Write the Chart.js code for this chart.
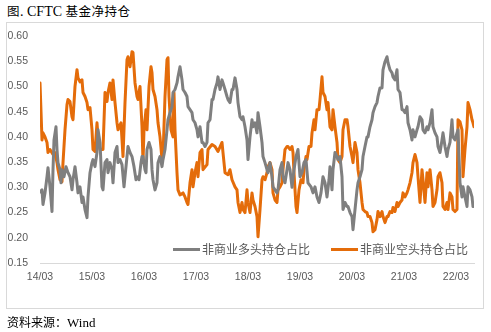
<!DOCTYPE html>
<html>
<head>
<meta charset="utf-8">
<script src="https://cdn.jsdelivr.net/npm/chart.js@4/dist/chart.umd.min.js"></script>
<style>
  html, body { margin: 0; padding: 0; background: #fff; }
  #wrap { position: relative; width: 491px; height: 332px; overflow: hidden; }
  .serif { font-family: "Liberation Serif", "Noto Sans CJK SC", serif; color: #000; }
  .title { position: absolute; left: 7px; top: 3px; font-size: 14px; line-height: 16px; white-space: nowrap; }
  .title .cjk { font-family: "Noto Sans CJK SC", sans-serif; font-size: 12.5px; letter-spacing: 0.5px; }
  .source .cjk { font-family: "Noto Sans CJK SC", sans-serif; font-size: 12px; }
  .frame { position: absolute; left: 6px; top: 22px; width: 476px; height: 285px; border: 1px solid #d9d9d9; }
  #chart { position: absolute; left: 0; top: 0; }
  .source { position: absolute; left: 7px; top: 314px; font-size: 13px; line-height: 16px; white-space: nowrap; }
  .legend { position: absolute; left: 173px; top: 241px; display: flex; align-items: center; white-space: nowrap;
            font-family: "Noto Sans CJK SC", sans-serif; font-size: 12px; color: #595959; line-height: 16px; }
  .legend .item { display: flex; align-items: center; margin-right: 21px; }
  .legend .swatch { width: 27px; height: 3px; margin-right: 2px; }
</style>
</head>
<body>
<div id="wrap">
  <div class="title serif"><span class="cjk">图</span>. CFTC <span class="cjk">基金净持仓</span></div>
  <div class="frame"></div>
  <canvas id="chart" width="491" height="332"></canvas>
  <div class="legend" id="legend"></div>
  <div class="source serif"><span class="cjk">资料来源：</span>Wind</div>
</div>
<script>
// Weeks counted from the first report in March 2014
const yearTickWeeks = [0, 52, 104, 156, 208, 260, 312, 364, 416];
const yearLabels = ['14/03', '15/03', '16/03', '17/03', '18/03', '19/03', '20/03', '21/03', '22/03'];

// 非商业多头持仓占比
const longWeeks = [
  0,2,3,5,7,8,10,12,13,14,
  16,17,18,20,21,22,24,26,28,30,
  32,33,35,37,38,40,42,43,45,47,
  48,50,52,53,55,57,58,60,62,63,
  65,67,68,70,72,73,75,77,78,80,
  82,84,86,88,90,92,94,96,98,99,
  101,102,103,105,106,107,109,111,112,113,
  115,117,118,120,122,123,125,127,128,130,
  132,133,135,137,138,140,142,143,145,147,
  148,150,152,153,155,157,158,160,162,163,
  165,167,168,170,172,173,175,177,178,180,
  182,183,185,187,188,190,192,193,195,197,
  198,200,202,203,205,207,208,210,212,213,
  215,217,218,220,222,223,225,227,228,230,
  232,233,235,237,238,240,242,243,245,247,
  248,250,252,254,256,258,260,262,264,266,
  268,271,273,275,277,279,281,283,285,287,
  289,290,292,293,295,297,298,300,302,303,
  305,307,308,310,312,313,315,317,318,320,
  322,323,325,327,328,330,332,333,335,337,
  338,340,342,343,345,347,348,350,352,353,
  355,357,358,360,362,363,365,367,368,370,
  372,373,375,377,378,380,382,383,385,387,
  388,390,392,393,395,397,398,400,402,403,
  405,407,408,410,412,413,415,417,418,420,
  422,423,425,427,428,430,432,433
];
const longShare = [
  .291,.295,.266,.289,.321,.339,.301,.252,.335,.394,
  .420,.375,.349,.335,.309,.335,.321,.341,.329,.321,
  .295,.315,.341,.309,.289,.301,.270,.281,.256,.240,
  .281,.329,.349,.355,.341,.369,.414,.389,.301,.295,
  .349,.355,.329,.349,.335,.309,.369,.381,.349,.355,
  .345,.301,.341,.381,.369,.361,.341,.315,.321,.315,
  .349,.361,.361,.335,.329,.375,.389,.375,.335,.315,
  .295,.309,.349,.361,.341,.355,.375,.414,.434,.448,
  .460,.488,.494,.507,.519,.539,.513,.494,.488,.480,
  .460,.454,.448,.434,.428,.414,.400,.420,.389,.389,
  .381,.389,.428,.434,.474,.474,.494,.507,.519,.494,
  .513,.507,.494,.480,.474,.468,.494,.494,.517,.494,
  .468,.440,.434,.440,.420,.394,.355,.400,.434,.420,
  .428,.408,.448,.420,.389,.361,.349,.335,.329,.349,
  .321,.301,.295,.289,.295,.335,.349,.321,.309,.335,
  .349,.335,.300,.335,.361,.375,.321,.329,.349,.355,
  .309,.301,.289,.301,.281,.270,.289,.321,.309,.281,
  .315,.341,.295,.335,.369,.361,.355,.361,.321,.256,
  .270,.262,.262,.250,.242,.216,.256,.295,.309,.321,
  .335,.361,.381,.400,.400,.420,.434,.448,.460,.468,
  .480,.497,.497,.533,.549,.559,.547,.533,.527,.519,
  .513,.533,.494,.488,.454,.454,.448,.460,.428,.414,
  .394,.414,.400,.414,.420,.440,.434,.414,.408,.420,
  .414,.428,.454,.420,.408,.400,.381,.369,.394,.408,
  .381,.361,.375,.389,.434,.400,.394,.408,.414,.309,
  .281,.301,.281,.262,.301,.295,.281,.262
];

// 非商业空头持仓占比
const shortWeeks = [
  0,2,3,5,7,8,10,13,15,17,
  18,20,22,23,25,27,28,30,32,33,
  35,37,38,40,42,43,45,47,48,50,
  52,53,55,57,58,60,63,65,67,68,
  70,72,73,75,77,78,81,83,85,87,
  88,90,92,93,95,97,98,100,102,103,
  104,106,107,109,111,112,113,115,117,118,
  120,122,123,125,127,128,129,131,133,134,
  135,137,138,140,143,145,147,148,150,152,
  153,155,157,158,160,162,163,165,167,168,
  172,175,178,182,183,185,188,190,192,195,
  197,198,200,202,203,205,207,208,210,212,
  213,215,217,218,220,222,223,225,227,228,
  230,232,233,235,237,238,240,242,243,245,
  247,248,250,252,253,254,256,257,259,261,
  263,264,266,267,269,271,272,274,275,277,
  279,280,282,283,285,287,288,290,292,293,
  295,297,298,300,302,303,305,307,308,310,
  312,313,315,317,318,320,322,323,325,327,
  328,330,332,333,335,337,338,340,342,343,
  345,347,348,350,352,353,355,357,358,360,
  362,363,365,367,368,370,372,373,375,377,
  378,380,382,383,385,387,388,390,392,393,
  395,397,398,400,402,403,405,407,408,410,
  412,413,415,417,418,420,422,423,425,427,
  428,430,432,433,434
];
const shortShare = [
  .507,.394,.408,.400,.389,.369,.375,.365,.369,.349,
  .335,.315,.311,.349,.414,.464,.474,.470,.440,.434,
  .500,.533,.517,.509,.513,.488,.480,.468,.454,.458,
  .414,.375,.371,.428,.400,.375,.375,.488,.470,.488,
  .507,.474,.513,.468,.428,.414,.428,.361,.468,.553,
  .559,.539,.569,.567,.507,.480,.474,.500,.420,.349,
  .414,.454,.414,.500,.539,.527,.494,.480,.454,.428,
  .400,.355,.361,.480,.553,.557,.480,.414,.400,.488,
  .414,.329,.295,.285,.289,.281,.270,.266,.309,.335,
  .301,.329,.349,.321,.369,.375,.335,.340,.345,.375,
  .385,.381,.371,.389,.369,.329,.325,.335,.315,.301,
  .295,.270,.250,.270,.256,.250,.295,.270,.250,.289,
  .275,.262,.242,.202,.256,.315,.321,.315,.329,.341,
  .349,.335,.289,.275,.270,.295,.301,.309,.335,.375,
  .381,.381,.375,.381,.369,.329,.262,.250,.295,.315,
  .309,.335,.361,.355,.381,.381,.408,.434,.414,.454,
  .454,.474,.519,.488,.480,.454,.468,.420,.414,.454,
  .420,.389,.355,.349,.361,.414,.434,.434,.420,.381,
  .361,.349,.389,.369,.335,.309,.270,.256,.252,.250,
  .242,.242,.230,.212,.216,.236,.252,.242,.252,.242,
  .230,.242,.242,.252,.250,.260,.252,.270,.262,.270,
  .275,.289,.281,.289,.295,.309,.329,.349,.365,.349,
  .321,.270,.335,.315,.270,.329,.301,.335,.295,.262,
  .270,.295,.321,.329,.309,.262,.256,.270,.256,.289,
  .281,.256,.252,.256,.434,.430,.414,.321,.375,.420,
  .468,.454,.434,.428,.420
];

const seriesNames = ['非商业多头持仓占比', '非商业空头持仓占比'];
const seriesColors = ['#7f7f7f', '#e46c0a'];

const toPoints = (weeks, values) => weeks.map((w, i) => ({ x: w, y: values[i] }));

const tickFont = { family: '"Liberation Sans", Arial, sans-serif', size: 10.5 };

const chart = new Chart(document.getElementById('chart'), {
  type: 'line',
  data: {
    datasets: [
      { label: seriesNames[0], data: toPoints(longWeeks, longShare), borderColor: seriesColors[0], backgroundColor: seriesColors[0] },
      { label: seriesNames[1], data: toPoints(shortWeeks, shortShare), borderColor: seriesColors[1], backgroundColor: seriesColors[1] }
    ]
  },
  options: {
    responsive: false,
    animation: false,
    layout: { padding: { left: 8, right: 17, top: 36, bottom: 39 } },
    elements: {
      point: { radius: 0, hoverRadius: 0 },
      line: { tension: 0, borderWidth: 3, borderJoinStyle: 'round', borderCapStyle: 'round' }
    },
    plugins: { legend: { display: false }, tooltip: { enabled: false } },
    scales: {
      x: {
        type: 'linear',
        min: 0,
        max: 434,
        grid: { display: false, drawTicks: false },
        border: { display: true, color: '#d9d9d9', width: 1 },
        afterBuildTicks: (scale) => { scale.ticks = yearTickWeeks.map(v => ({ value: v })); },
        afterFit: (scale) => { scale.height = 30; },
        ticks: {
          autoSkip: false,
          maxRotation: 0,
          padding: 8,
          color: '#595959',
          font: tickFont,
          callback: (value, index) => yearLabels[index]
        }
      },
      y: {
        min: 0.15,
        max: 0.60,
        grid: { display: false, drawTicks: false },
        border: { display: false },
        afterFit: (scale) => { scale.width = 32; },
        ticks: {
          stepSize: 0.05,
          padding: 12,
          color: '#595959',
          font: tickFont,
          callback: (value) => Number(value).toFixed(2)
        }
      }
    }
  }
});

// Legend built from the chart's own datasets
const legendEl = document.getElementById('legend');
chart.data.datasets.forEach(ds => {
  const item = document.createElement('div');
  item.className = 'item';
  const sw = document.createElement('span');
  sw.className = 'swatch';
  sw.style.background = ds.borderColor;
  const txt = document.createElement('span');
  txt.textContent = ds.label;
  item.appendChild(sw);
  item.appendChild(txt);
  legendEl.appendChild(item);
});
</script>
</body>
</html>
